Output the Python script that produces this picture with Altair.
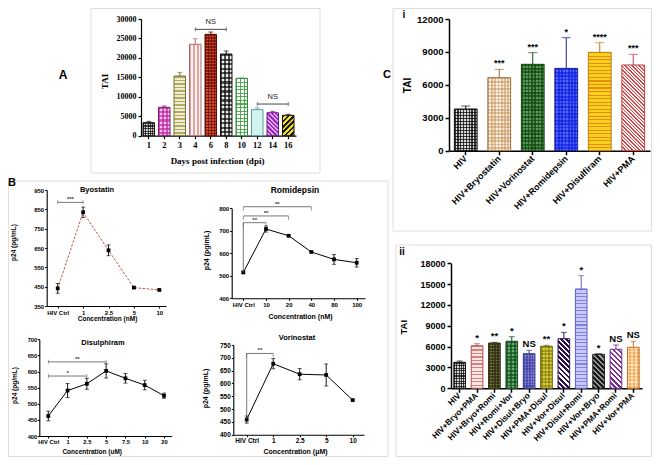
import json
import altair as alt
import pandas as pd

W, H = 644, 449          # whole drawing area (page minus 8px margins)


def X(v):                # page x -> chart x
    return v - 8


def Y(v):                # page y -> chart y
    return v - 8


SANS = "Liberation Sans"
SERIF = "Liberation Serif"

# ---------------- Panel A : TAI by day post infection ----------------
a_days = ["1", "2", "3", "4", "6", "8", "10", "12", "14", "16"]
a_tai = [3340, 7290, 15340, 23490, 26060, 21000, 14740, 6690, 5910, 5230]
a_err = [340, 340, 940, 1450, 600, 770, 90, 510, 340, 260]
a_fill = ["#d8d8d8", "#f2c8ea", "#f1edd2", "#fff5f5", "#c84a34",
          "#eeeeee", "#ffffff", "#d2f4f0", "#e0a8ea", "#f2df1a"]
a_stroke = ["#111111", "#7a1a6a", "#7a7236", "#b06a6a", "#5a0e04",
            "#111111", "#2e8a3a", "#5a9a9a", "#6a1a80", "#111111"]
a_hatch = [[("g", "rgba(10,10,10,0.72)", 2.5, 0.5)],
           [("g", "rgba(190,30,160,0.65)", 4, 0.5)],
           [("h", "#b3a95f", 3.5, 0.5)],
           [("v", "#e5a0a0", 3.5, 0.5)],
           [("g", "rgba(110,12,0,0.7)", 3, 0.5)],
           [("g", "rgba(10,10,10,0.68)", 4.5, 0.5)],
           [("g", "rgba(60,160,60,0.85)", 3.5, 0.3)],
           [],
           [("b", "#9c2cbc", 4.5, 0.55)],
           [("f", "#1a1a1a", 5, 0.5)]]
a_br_from = ["4", "12"]
a_br_to = ["8", "16"]
a_br_mid = ["6", "14"]
a_br_level = [27340, 8140]
a_br_label = ["NS", "NS"]

# ---------------- Panel B : p24 dose response ----------------
byo_cats = ["HIV Ctrl", "1", "2.5", "5", "10"]
byo_vals = [441, 835, 638, 445, 433]
byo_err = [25, 27, 28, 4, 3]
byo_br_from, byo_br_to, byo_br_level, byo_br_label, byo_br_stem = [0], [1], [886], ["***"], [False]

romi_cats = ["HIV Ctrl", "10", "20", "40", "80", "100"]
romi_vals = [515, 708, 678, 606, 573, 558]
romi_err = [5, 14, 4, 3, 22, 19]
romi_br_from, romi_br_to = [0, 0, 0], [1, 2, 3]
romi_br_level, romi_br_label, romi_br_stem = [736, 766, 807], ["**", "**", "**"], [True, False, False]

dis_cats = ["HIV Ctrl", "1", "2.5", "5", "7.5", "10", "20"]
dis_vals = [462, 541, 562, 602, 579, 558, 525]
dis_err = [15, 22, 17, 22, 15, 15, 8]
dis_br_from, dis_br_to = [0, 0], [2, 3]
dis_br_level, dis_br_label, dis_br_stem = [586, 630], ["*", "**"], [False, False]

vor_cats = ["HIV Ctrl", "1", "2.5", "5", "10"]
vor_vals = [459, 677, 636, 633, 535]
vor_err = [14, 20, 22, 43, 2]
vor_br_from, vor_br_to, vor_br_level, vor_br_label, vor_br_stem = [0], [1], [717], ["**"], [True]

# ---------------- Panel C(i) : single agents ----------------
ci_cats = ["HIV", "HIV+Bryostatin", "HIV+Vorinostat", "HIV+Romidepsin", "HIV+Disulfiram", "HIV+PMA"]
ci_tai = [3800, 6650, 7870, 7500, 8960, 7810]
ci_err = [270, 760, 1060, 2800, 880, 970]
ci_sig = ["", "***", "***", "*", "****", "***"]
ci_fill = ["#d8d8d8", "#fbf2e6", "#5a9a5a", "#5068ff", "#f8d020", "#fff2f2"]
ci_stroke = ["#111111", "#9a6a3a", "#1a4a1a", "#1a2090", "#c07a10", "#c04040"]
ci_hatch = [[("g", "rgba(0,0,0,0.72)", 3, 0.5)],
            [("g", "rgba(200,150,90,0.55)", 3.5, 0.5)],
            [("g", "rgba(15,70,15,0.7)", 3.5, 0.5)],
            [("g", "rgba(15,30,220,0.65)", 3.5, 0.5)],
            [("h", "rgba(220,120,10,0.75)", 3.5, 0.3)],
            [("b", "#d04848", 3.5, 0.4)]]

# ---------------- Panel C(ii) : combinations ----------------
cii_cats = ["HIV", "HIV+Bryo+PMA", "HIV+Bryo+Romi", "HIV+Romi+Vor", "HIV+Disul+Bryo", "HIV+PMA+Disul",
            "HIV+Vor+Disul", "HIV+Disul+Romi", "HIV+Vor+Bryo", "HIV+PMA+Romi", "HIV+Vor+PMA"]
cii_tai = [3740, 6130, 6520, 6770, 4980, 6050, 7140, 14300, 4900, 5620, 5900]
cii_err = [190, 290, 100, 660, 490, 140, 920, 1920, 80, 620, 870]
cii_sig = ["", "*", "**", "*", "NS", "**", "*", "*", "*", "NS", "NS"]
cii_fill = ["#d8d8d8", "#fbe6e6", "#7a7844", "#6aa86e", "#8484d8", "#d8d040",
            "#ffffff", "#c8c8fa", "#9a9a9a", "#ffffff", "#f4a850"]
cii_stroke = ["#111111", "#b05050", "#33331a", "#1e4a25", "#3a3a80", "#6a6010",
              "#2a1040", "#6060c0", "#202020", "#6a2a8a", "#c07020"]
cii_hatch = [[("g", "rgba(0,0,0,0.7)", 2.5, 0.5)],
             [("h", "#d88080", 3.5, 0.35)],
             [("g", "rgba(40,40,15,0.65)", 3, 0.5)],
             [("g", "rgba(15,80,30,0.7)", 3.5, 0.5)],
             [("g", "rgba(50,50,150,0.5)", 3, 0.5)],
             [("g", "rgba(120,110,0,0.5)", 3.5, 0.5)],
             [("b", "#2c0c4c", 5, 0.55)],
             [("h", "rgba(100,100,220,0.7)", 3.5, 0.3)],
             [("b", "#1a1a1a", 5, 0.5)],
             [("b", "#7a2a9a", 5, 0.5)],
             [("g", "rgba(255,255,255,0.45)", 3.5, 0.35)]]

CLEAR = "rgba(255,255,255,0)"


def stripe_gradient(kind, fg, w, h, period, frac):
    if kind == "h":
        g, length = (0, 0, 0, 1), h
    elif kind == "v":
        g, length = (0, 0, 1, 0), w
    elif kind == "b":      # "\" stripes
        d = w * w + h * h
        g, length = (0, 1, (w + h) * w / d, 1 - (w + h) * h / d), w + h
    else:                  # "/" stripes
        d = w * w + h * h
        g, length = (0, 0, (w + h) * w / d, (w + h) * h / d), w + h
    n = max(1, int(round(length / period)))
    stops = []
    for k in range(n):
        a, b, c = k / n, (k + frac) / n, (k + 1) / n
        stops += [{"offset": round(a, 5), "color": fg}, {"offset": round(b, 5), "color": fg},
                  {"offset": round(b, 5), "color": CLEAR}, {"offset": round(c, 5), "color": CLEAR}]
    return {"gradient": "linear", "x1": round(g[0], 5), "y1": round(g[1], 5),
            "x2": round(g[2], 5), "y2": round(g[3], 5), "stops": stops}


def axis_common(font, lab_size, title_size, tick=3, dw=1.2):
    return dict(labelFont=font, labelFontSize=lab_size, labelFontWeight="bold", labelColor="black",
                titleFont=font, titleFontSize=title_size, titleFontWeight="bold", titleColor="black",
                domainColor="black", domainWidth=dw, tickColor="black", tickWidth=dw, tickSize=tick,
                grid=False, labelOverlap=False, labelFlush=False, minExtent=0,
                titleBaseline="middle", titleAlign="center")


def bar_panel(cats, vals, errs, fills, strokes, hatch, sig, xa, xb, y0, yt, ymax, ystep, pad,
              font, lab_size, xlab_size, title_size, ytitle, ytitle_pos, xtitle=None, xtitle_pos=None,
              angle=0, sig_size=9, tick=3, dw=1.2, cap=6):
    df = pd.DataFrame({"cat": cats, "val": vals, "top": [v + e for v, e in zip(vals, errs)],
                       "fill": fills, "stroke": strokes, "sig": sig})
    xs = alt.Scale(domain=cats, range=[X(xa), X(xb)], paddingInner=pad, paddingOuter=pad / 2)
    ys = alt.Scale(domain=[0, ymax], range=[Y(y0), Y(yt)], nice=False, zero=False)
    com = axis_common(font, lab_size, title_size, tick, dw)
    xcom = dict(com)
    xcom["labelFontSize"] = xlab_size
    xkw = dict(orient="bottom", offset=Y(y0) - H, labelPadding=2, **xcom)
    if angle:
        xkw.update(labelAngle=angle, labelAlign="right", labelBaseline="middle")
    else:
        xkw.update(labelAngle=0, labelAlign="center", labelBaseline="top")
    if xtitle:
        xkw.update(title=xtitle, titleX=X(xtitle_pos[0]), titleY=xtitle_pos[1] - y0)
    else:
        xkw.update(title=None)
    xaxis = alt.Axis(**xkw)
    yaxis = alt.Axis(orient="left", offset=-X(xa), values=list(range(0, ymax + 1, ystep)), format="d",
                     title=ytitle, titleX=ytitle_pos[0] - xa, titleY=Y(ytitle_pos[1]),
                     labelPadding=2, **com)
    base = alt.Chart(df)
    xe = alt.X("cat:N", scale=xs)
    ye = alt.Y("val:Q", scale=ys)
    bars = base.mark_bar(strokeWidth=0).encode(
        x=alt.X("cat:N", scale=xs, axis=xaxis), y=alt.Y("val:Q", scale=ys, axis=yaxis),
        fill=alt.Fill("fill:N", scale=None))
    layers = [bars]
    bw = (xb - xa) / len(cats) * (1 - pad)
    for c, v, hs in zip(cats, vals, hatch):
        bh = v / ymax * (y0 - yt)
        specs = []
        for kind, fg, period, frac in hs:
            if kind == "g":
                specs += [("h", fg, period, frac), ("v", fg, period, frac)]
            else:
                specs.append((kind, fg, period, frac))
        for kind, fg, period, frac in specs:
            layers.append(base.transform_filter(alt.datum.cat == c).mark_bar(
                color=stripe_gradient(kind, fg, bw, bh, period, frac), strokeWidth=0).encode(x=xe, y=ye))
    outline = base.mark_bar(fillOpacity=0, strokeWidth=1).encode(
        x=xe, y=ye, stroke=alt.Stroke("stroke:N", scale=None))
    err = base.mark_rule(strokeWidth=1).encode(x=xe, y=ye, y2="top:Q",
                                               color=alt.Color("stroke:N", scale=None))
    capm = base.mark_tick(orient="horizontal", size=cap, thickness=1).encode(
        x=xe, y=alt.Y("top:Q", scale=ys), color=alt.Color("stroke:N", scale=None))
    layers += [outline, err, capm]
    if any(sig):
        txt = base.mark_text(font=font, fontWeight="bold", fontSize=sig_size, baseline="bottom",
                             dy=-1, color="black").encode(
            x=xe, y=alt.Y("top:Q", scale=ys), text="sig:N")
        layers.append(txt)
    return alt.layer(*layers), xs, ys


def line_panel(cats, vals, errs, bfrom, bto, blev, blab, bstem, xa, xb, c0, cn, yb, yt, ydom, ystep,
               xtitle, xtitle_pos, ytitle_pos, lab_size, title_size, color="black", dash=None,
               hang=0, tick=2, lpad=1):
    n = len(cats)
    step = (cn - c0) / (n - 1)
    xs = alt.Scale(domain=[(xa - c0) / step, (xb - c0) / step], range=[X(xa), X(xb)], nice=False, zero=False)
    ys = alt.Scale(domain=list(ydom), range=[Y(yb), Y(yt)], nice=False, zero=False)
    com = axis_common(SANS, lab_size, title_size, tick, 1.1)
    xaxis = alt.Axis(orient="bottom", offset=Y(yb) - H, values=list(range(n)),
                     labelExpr=json.dumps(cats) + "[datum.value]", title=xtitle,
                     titleX=X(xtitle_pos[0]), titleY=xtitle_pos[1] - yb, labelPadding=lpad, **com)
    yaxis = alt.Axis(orient="left", offset=-X(xa), values=list(range(ydom[0], ydom[1] + 1, ystep)),
                     format="d", title="p24 (pg/mL)", titleX=ytitle_pos[0] - xa, titleY=Y(ytitle_pos[1]),
                     labelPadding=lpad, **com)
    df = pd.DataFrame({"i": list(range(n)), "val": vals,
                       "lo": [v - e for v, e in zip(vals, errs)],
                       "hi": [v + e for v, e in zip(vals, errs)]})
    base = alt.Chart(df)
    xe = alt.X("i:Q", scale=xs)

    def ye(f):
        return alt.Y(f + ":Q", scale=ys)

    lkw = dict(color=color, strokeWidth=1)
    if dash:
        lkw["strokeDash"] = dash
    line = base.mark_line(**lkw).encode(x=alt.X("i:Q", scale=xs, axis=xaxis),
                                        y=alt.Y("val:Q", scale=ys, axis=yaxis))
    ebar = base.mark_rule(color="black", strokeWidth=0.9).encode(x=xe, y=ye("lo"), y2="hi:Q")
    cap_lo = base.mark_tick(orient="horizontal", size=4, thickness=0.9, color="black").encode(x=xe, y=ye("lo"))
    cap_hi = base.mark_tick(orient="horizontal", size=4, thickness=0.9, color="black").encode(x=xe, y=ye("hi"))
    pts = base.mark_square(size=14, color="black", opacity=1).encode(x=xe, y=ye("val"))

    bdf = pd.DataFrame({"x1": bfrom, "x2": bto, "lev": blev, "lab": blab,
                        "xm": [(a + b) / 2 for a, b in zip(bfrom, bto)],
                        "stem": [vals[a] if s else l for a, s, l in zip(bfrom, bstem, blev)]})
    bb = alt.Chart(bdf)
    bx1 = alt.X("x1:Q", scale=xs)
    brule = bb.mark_rule(color="#555555", strokeWidth=0.8).encode(x=bx1, x2="x2:Q", y=ye("lev"))
    bstemm = bb.mark_rule(color="#555555", strokeWidth=0.8).encode(x=bx1, y=ye("lev"), y2="stem:Q")
    bt1 = bb.mark_tick(orient="vertical", size=4, thickness=0.8, color="#555555", yOffset=hang).encode(
        x=bx1, y=ye("lev"))
    bt2 = bb.mark_tick(orient="vertical", size=4, thickness=0.8, color="#555555", yOffset=hang).encode(
        x=alt.X("x2:Q", scale=xs), y=ye("lev"))
    blabel = bb.mark_text(font=SANS, fontWeight="bold", fontSize=6, baseline="bottom", dy=0,
                          color="#333333").encode(x=alt.X("xm:Q", scale=xs), y=ye("lev"), text="lab:N")
    return alt.layer(line, ebar, cap_lo, cap_hi, pts, brule, bstemm, bt1, bt2, blabel)


# ---------------- build panels ----------------
panelA, axs, ays = bar_panel(a_days, a_tai, a_err, a_fill, a_stroke, a_hatch, [""] * len(a_days),
                             xa=141, xb=296, y0=135.7, yt=19, ymax=30000, ystep=5000, pad=0.26,
                             font=SERIF, lab_size=8, xlab_size=8.5, title_size=9,
                             ytitle="TAI", ytitle_pos=(104.5, 81),
                             xtitle="Days post infection (dpi)", xtitle_pos=(217, 160), cap=5)

abr = pd.DataFrame({"x1": a_br_from, "x2": a_br_to, "xm": a_br_mid, "lev": a_br_level, "lab": a_br_label})
ab = alt.Chart(abr)
aY = alt.Y("lev:Q", scale=ays)
a_rule = ab.mark_rule(color="#333333", strokeWidth=0.9).encode(
    x=alt.X("x1:N", scale=axs), x2="x2:N", y=aY)
a_t1 = ab.mark_tick(orient="vertical", size=4, thickness=0.9, color="#333333").encode(
    x=alt.X("x1:N", scale=axs), y=aY)
a_t2 = ab.mark_tick(orient="vertical", size=4, thickness=0.9, color="#333333").encode(
    x=alt.X("x2:N", scale=axs), y=aY)
a_txt = ab.mark_text(font=SANS, fontSize=7.5, baseline="bottom", dy=-3, color="#222222").encode(
    x=alt.X("xm:N", scale=axs), y=aY, text="lab:N")
panelA = alt.layer(panelA, a_rule, a_t1, a_t2, a_txt)

pByo = line_panel(byo_cats, byo_vals, byo_err, byo_br_from, byo_br_to, byo_br_level, byo_br_label, byo_br_stem,
                  xa=46.7, xb=166, c0=57.7, cn=159.3, yb=306, yt=190, ydom=(350, 950), ystep=100,
                  xtitle="Concentration (nM)", xtitle_pos=(107, 318.5), ytitle_pos=(13.5, 242),
                  lab_size=6, title_size=6.5, color="#c0504d", dash=[2.5, 1.5])
pRomi = line_panel(romi_cats, romi_vals, romi_err, romi_br_from, romi_br_to, romi_br_level, romi_br_label,
                   romi_br_stem, xa=231.7, xb=365, c0=243.3, cn=356.7, yb=298.3, yt=208.3, ydom=(400, 800),
                   ystep=100, xtitle="Concentration (nM)", xtitle_pos=(300, 316), ytitle_pos=(206.5, 250),
                   lab_size=6, title_size=7, hang=2)
pDis = line_panel(dis_cats, dis_vals, dis_err, dis_br_from, dis_br_to, dis_br_level, dis_br_label, dis_br_stem,
                  xa=39.3, xb=171.7, c0=48.3, cn=164, yb=436, yt=339.3, ydom=(400, 700), ystep=50,
                  xtitle="Concentration (uM)", xtitle_pos=(91.7, 451), ytitle_pos=(14, 385),
                  lab_size=5.8, title_size=6.5, tick=2, lpad=0.5)
pVor = line_panel(vor_cats, vor_vals, vor_err, vor_br_from, vor_br_to, vor_br_level, vor_br_label, vor_br_stem,
                  xa=233.3, xb=364, c0=246.7, cn=352.7, yb=434.7, yt=345, ydom=(400, 750), ystep=50,
                  xtitle="Concentration (\u03bcM)", xtitle_pos=(295, 451), ytitle_pos=(205, 388),
                  lab_size=6.5, title_size=7, hang=2)

pCi, _, _ = bar_panel(ci_cats, ci_tai, ci_err, ci_fill, ci_stroke, ci_hatch, ci_sig,
                      xa=449, xb=650, y0=150.7, yt=19, ymax=12000, ystep=3000, pad=0.32,
                      font=SANS, lab_size=9.5, xlab_size=9, title_size=10, ytitle="TAI",
                      ytitle_pos=(407, 85), angle=-45, sig_size=9, tick=4, dw=1.5, cap=9)
pCii, _, _ = bar_panel(cii_cats, cii_tai, cii_err, cii_fill, cii_stroke, cii_hatch, cii_sig,
                       xa=451, xb=642, y0=388.3, yt=263.3, ymax=18000, ystep=3000, pad=0.33,
                       font=SANS, lab_size=9, xlab_size=8.3, title_size=9.5, ytitle="TAI",
                       ytitle_pos=(403, 326.7), angle=-45, sig_size=9.5, tick=4, dw=1.5, cap=6)

# ---------------- frames, panel letters and sub-titles ----------------
one = pd.DataFrame({"k": [0]})


def frame(x0, y0, x1, y1):
    return alt.Chart(one).mark_rect(fill="white", fillOpacity=0, stroke="#dedede", strokeWidth=1).encode(
        x=alt.value(X(x0)), x2=alt.value(X(x1)), y=alt.value(Y(y0)), y2=alt.value(Y(y1)))


def label(text, x, y, size, font=SANS, weight="bold", align="center"):
    return alt.Chart(one).mark_text(text=text, font=font, fontSize=size, fontWeight=weight, color="black",
                                    align=align, baseline="middle").encode(x=alt.value(X(x)), y=alt.value(Y(y)))


frames = [frame(91, 8.5, 320, 173), frame(8.5, 181, 388, 456.5),
          frame(393, 8.5, 651.5, 231), frame(396, 245, 651.5, 456.5)]
texts = [label("A", 63, 75, 12), label("B", 12, 183, 11), label("C", 387, 75, 11),
         label("i", 404, 15, 10), label("ii", 402, 252, 10),
         label("Byostatin", 97, 190, 7.5), label("Romidepsin", 295, 190, 8.5),
         label("Disulphiram", 103, 342.5, 7.5), label("Vorinostat", 297, 338, 7.5)]

chart = alt.layer(*frames, panelA, pByo, pRomi, pDis, pVor, pCi, pCii, *texts).resolve_scale(
    x="independent", y="independent").resolve_axis(x="independent", y="independent").properties(
    width=W, height=H, autosize=alt.AutoSizeParams(type="none"), padding=0, background="white"
).configure_view(stroke=None)

chart.save("out.html", embed_options={"renderer": "svg", "actions": False})
